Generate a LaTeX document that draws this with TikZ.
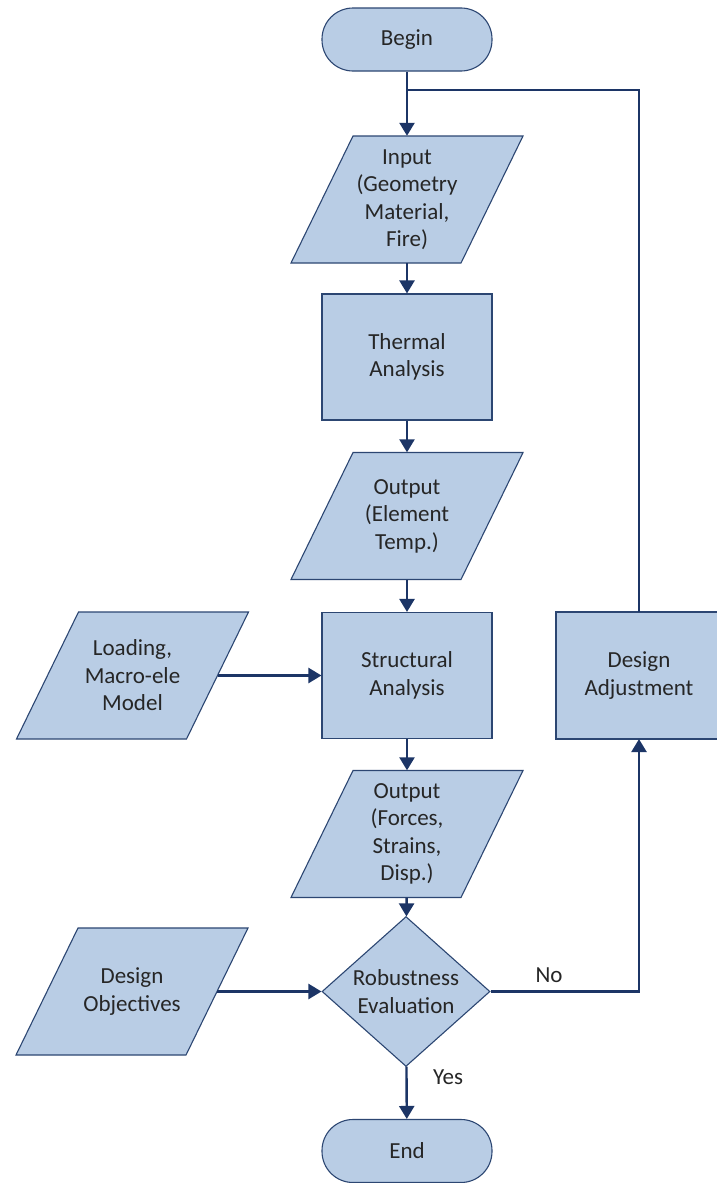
\documentclass[tikz,border=0pt]{standalone}
\usepackage{fontspec}
\setmainfont{Carlito}
\usetikzlibrary{arrows.meta,shapes.geometric}
\definecolor{boxfill}{HTML}{B9CDE5}
\definecolor{boxline}{HTML}{2C4672}
\definecolor{flow}{HTML}{1C3566}
\definecolor{ink}{HTML}{262626}
% parallelogram (data) box: name, centre x, centre y, text
\newcommand\paranode[4]{%
  \draw[iofill] (#2-85+31,#3-63.5) -- (#2+85+31,#3-63.5)
    -- (#2+85-31,#3+63.5) -- (#2-85-31,#3+63.5) -- cycle;
  \node[iotext] (#1) at (#2,#3) {#4};}
\begin{document}
\begin{tikzpicture}[x=1pt,y=-1pt,
  font=\fontsize{23}{27.5}\selectfont, text=ink,
  iofill/.style={fill=boxfill, draw=boxline, line width=1.1pt, line join=miter},
  iotext/.style={rectangle, minimum width=170pt, minimum height=127pt,
    inner sep=0pt, align=center},
  procbox/.style={rectangle, fill=boxfill, draw=boxline, line width=1.1pt,
    minimum width=170pt, minimum height=126pt, inner sep=0pt, align=center},
  termbox/.style={rectangle, rounded corners=31pt, fill=boxfill, draw=boxline,
    line width=1.1pt, minimum width=170pt, minimum height=63pt, inner sep=0pt},
  decbox/.style={diamond, fill=boxfill, draw=boxline, line width=1.1pt,
    minimum width=168pt, minimum height=125pt, inner sep=0pt, align=center},
  flowline/.style={draw=flow, line width=2.4pt},
  flowarrow/.style={flowline, -{Triangle[width=15pt,length=13pt]}},
  lbl/.style={inner sep=0pt}]
\useasboundingbox (0,0) rectangle (717,1183);
\clip (0,0) rectangle (717,1183);
\fill[white] (0,0) rectangle (717,1183);

% main column
\node[termbox] (begin) at (407,39.5) {Begin};
\paranode{input}{407}{199.5}{Input\\(Geometry\\Material,\\Fire)}
\node[procbox] (thermal) at (407,357) {Thermal\\Analysis};
\paranode{tempout}{407}{516}{Output\\(Element\\Temp.)}
\node[procbox] (struct) at (407,675.5) {Structural\\Analysis};
\paranode{forceout}{407}{834}{Output\\(Forces,\\Strains,\\Disp.)}
\node[decbox] (robust) at (406,991.5) {Robustness\\Evaluation};
\node[termbox] (end) at (407,1151) {End};

% side inputs
\paranode{loading}{132.5}{675.5}{Loading,\\Macro-ele\\Model}
\paranode{objectives}{132}{991.5}{Design\\Objectives}

% feedback box, running off the right edge
\draw[fill=boxfill, draw=boxline, line width=1.1pt] (556,612) rectangle (745,739);
\node[procbox, draw=none, fill=none, minimum width=166pt] (adjust) at (639,675.5) {Design\\Adjustment};
\coordinate (join) at (407,90);

% connectors
\draw[flowarrow] (begin) -- (input);
\draw[flowarrow] (input) -- (thermal);
\draw[flowarrow] (thermal) -- (tempout);
\draw[flowarrow] (tempout) -- (struct);
\draw[flowarrow] (struct) -- (forceout);
\draw[flowarrow] (forceout) -- (robust);
\draw[flowarrow] (robust) -- (end);
\draw[flowarrow] (loading.east) -- (struct.west);
\draw[flowarrow] (objectives.east) -- (robust.west);
\draw[flowarrow] (robust.east) -| (adjust.south);
\draw[flowline] (adjust.north) |- (join);

% branch labels
\node[lbl] (nolbl) at (549,975) {No};
\node[lbl] (yeslbl) at (448,1077) {Yes};
\end{tikzpicture}
\end{document}
